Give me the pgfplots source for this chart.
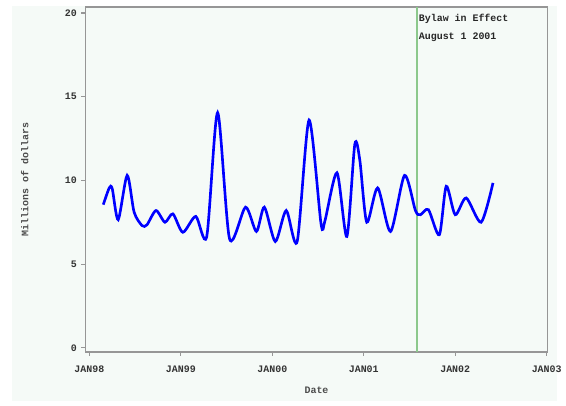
\documentclass[border=0pt]{standalone}
\usepackage{pgfplots}
\pgfplotsset{compat=1.18}
\usepackage{fontspec}
\setmainfont{Liberation Sans}
\setmonofont{Liberation Mono}
\definecolor{panel}{RGB}{245,250,247}
\definecolor{axgray}{RGB}{150,150,150}
\definecolor{bylaw}{RGB}{140,200,140}

% monthly revenue, x in years since Jan 1998
\pgfplotstableread{
x y
0.152 8.55
0.217 9.55
0.250 9.50
0.315 7.65
0.413 10.30
0.489 8.10
0.576 7.30
0.630 7.35
0.728 8.20
0.826 7.50
0.913 8.00
1.022 6.90
1.163 7.85
1.283 6.65
1.402 14.05
1.533 6.50
1.707 8.40
1.826 6.95
1.913 8.40
2.033 6.35
2.152 8.20
2.272 6.35
2.402 13.60
2.533 7.40
2.576 7.60
2.707 10.45
2.815 6.65
2.902 12.15
2.957 11.20
3.033 7.50
3.152 9.55
3.293 6.95
3.446 10.30
3.565 8.20
3.620 7.95
3.707 8.25
3.826 6.75
3.902 9.65
4.000 7.95
4.120 8.95
4.283 7.50
4.413 9.85
}\revenue

\begin{document}
\begin{tikzpicture}
\fill[white] (-64.5pt,-40.5pt) rectangle (360pt,265.5pt);
\fill[panel] (-55.5pt,-36.75pt) rectangle (355.5pt,261pt);
\begin{axis}[
  anchor=south west,
  scale only axis,
  width=348.75pt,
  height=260.25pt,
  xmin=-0.043, xmax=5.01,
  ymin=-0.24, ymax=20.36,
  axis background/.style={fill=panel},
  axis line style={axgray, line width=1.1pt},
  major tick style={axgray, line width=0.8pt},
  major tick length=3pt,
  tick align=outside,
  tick pos=left,
  xtick={0,1,2,3,4,5},
  xticklabels={JAN98,JAN99,JAN00,JAN01,JAN02,JAN03},
  ytick={0,5,10,15,20},
  /pgf/number format/assume math mode=true,
  tick label style={font=\ttfamily\bfseries\fontsize{7.5}{9}\selectfont, text=black!80},
  xticklabel style={yshift=-4pt},
  xlabel={Date},
  ylabel={Millions of dollars},
  label style={font=\ttfamily\bfseries\fontsize{7.5}{9}\selectfont, text=black!70},
  xlabel style={at={(axis description cs:0.5,-0.1124)}, anchor=center},
  ylabel style={at={(axis description cs:-0.1312,0.5)}, anchor=center},
  clip=false,
]
\addplot[bylaw, line width=1.4pt] coordinates {(3.583,-0.24) (3.583,20.36)};
\addplot[blue, line width=2pt, smooth, tension=0.45] table[x=x, y=y] {\revenue};
\node[anchor=north west, align=left, inner sep=0pt,
      font=\ttfamily\bfseries\fontsize{7.5}{13.5}\selectfont, text=black!85]
  at (axis cs:3.60,19.95) {Bylaw in Effect\\August 1 2001};
\end{axis}
\end{tikzpicture}
\end{document}
